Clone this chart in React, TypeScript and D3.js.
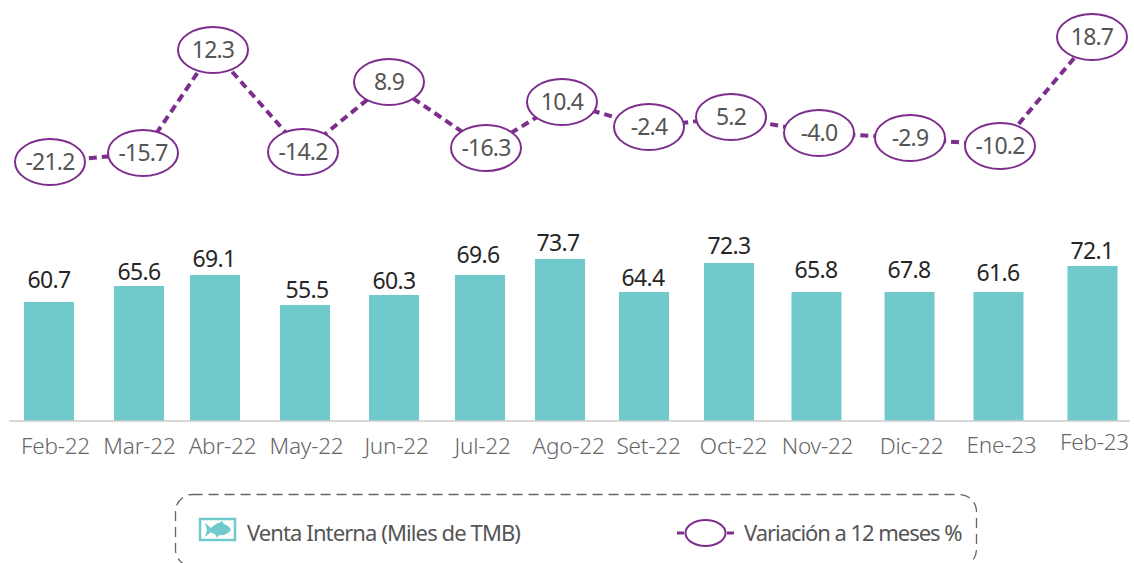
import React, { useEffect, useRef } from 'react';
import * as d3 from 'd3';

const meses = ['Feb-22', 'Mar-22', 'Abr-22', 'May-22', 'Jun-22', 'Jul-22', 'Ago-22', 'Set-22', 'Oct-22', 'Nov-22', 'Dic-22', 'Ene-23', 'Feb-23'];
// printed labels
const ventaInterna = [60.7, 65.6, 69.1, 55.5, 60.3, 69.6, 73.7, 64.4, 72.3, 65.8, 67.8, 61.6, 72.1];
const variacion = [-21.2, -15.7, 12.3, -14.2, 8.9, -16.3, 10.4, -2.4, 5.2, -4.0, -2.9, -10.2, 18.7];
// the source graphic is hand placed: bars and ovals do not follow the printed labels,
// so these are the levels as they were read off the picture
const ventaNivel = [59.5, 67.5, 73, 58, 63, 73, 81, 64.5, 79, 64.5, 64.5, 64.5, 77.5];
const variacionNivel = [8, 17, 120, 18, 88, 22, 68, 43, 53, 37, 32, 24, 133];

const width = 1134;
const height = 563;
const TEAL = '#70c9ca';
const PURPLE = '#7d2e8d';
const FONT = '"Noto Sans", sans-serif';

function App() {
    const ref = useRef<SVGSVGElement>(null);

    useEffect(() => {
        const svg = d3.select(ref.current);
        svg.selectAll('*').remove();

        // uneven spacing in the original, so ordinal scales rather than a band scale
        const xBar = d3.scaleOrdinal<string, number>().domain(meses)
            .range([49, 139, 215, 305, 394, 480, 560, 644, 729, 816.5, 909.5, 998.5, 1092.5]);
        const xValor = d3.scaleOrdinal<string, number>().domain(meses)
            .range([49, 139, 214, 307, 394, 478, 558, 643, 729, 816, 909, 998, 1092]);
        const xMes = d3.scaleOrdinal<string, number>().domain(meses)
            .range([55, 139, 222, 306, 396, 482, 568, 648, 733, 817, 911, 1001, 1094]);
        const xOvalo = d3.scaleOrdinal<string, number>().domain(meses)
            .range([50, 143, 213, 303, 389, 486, 562, 649, 731, 819, 910, 1000, 1092]);
        const gapValor = d3.scaleOrdinal<string, number>().domain(meses)
            .range([14, 6, 8, 7, 6, 12, 8, 6, 9, 14, 14, 11, 7]);

        const yBar = d3.scaleLinear().domain([0, 81]).range([421, 259]);
        const yOvalo = d3.scaleLinear().domain([0, 170]).range([170, 0]);

        // bars
        svg.append('g')
            .attr('fill', TEAL)
            .selectAll('rect')
            .data(meses)
            .join('rect')
            .attr('x', d => xBar(d) - 25)
            .attr('width', 50)
            .attr('y', (d, i) => yBar(ventaNivel[i]))
            .attr('height', (d, i) => yBar(0) - yBar(ventaNivel[i]));

        svg.append('g')
            .attr('font-family', FONT)
            .attr('font-size', 23)
            .attr('letter-spacing', -0.7)
            .attr('fill', '#262626')
            .attr('text-anchor', 'middle')
            .selectAll('text')
            .data(meses)
            .join('text')
            .attr('x', d => xValor(d))
            .attr('y', (d, i) => yBar(ventaNivel[i]) - gapValor(d))
            .text((d, i) => ventaInterna[i].toFixed(1));

        // month axis
        const xAxis = svg.append('g')
            .attr('transform', `translate(0,${yBar(0)})`)
            .call(d3.axisBottom(xMes as any).tickSize(0).tickPadding(17));
        xAxis.select('.domain').remove();
        xAxis.append('line')
            .attr('x1', 9).attr('x2', 1130)
            .attr('stroke', '#cccccc').attr('stroke-width', 1.5);
        xAxis.selectAll('text')
            .attr('font-family', FONT)
            .attr('font-size', 22.5)
            .attr('font-weight', 300)
            .attr('letter-spacing', -0.2)
            .attr('fill', '#666666')
            .attr('dy', (d: any) => (d === 'Feb-23' ? '0.55em' : d === 'Ene-23' ? '0.66em' : '0.71em'));

        // variation line, the ovals sit on top of it
        const line = d3.line<string>()
            .x(d => xOvalo(d))
            .y((d, i) => yOvalo(variacionNivel[i]));

        svg.append('path')
            .attr('d', line(meses))
            .attr('fill', 'none')
            .attr('stroke', PURPLE)
            .attr('stroke-width', 4)
            .attr('stroke-dasharray', '8 5');

        const ovalo = svg.append('g')
            .selectAll('g')
            .data(meses)
            .join('g')
            .attr('transform', (d, i) => `translate(${xOvalo(d)},${yOvalo(variacionNivel[i])})`);

        ovalo.append('ellipse')
            .attr('rx', 35)
            .attr('ry', 23)
            .attr('fill', 'white')
            .attr('stroke', PURPLE)
            .attr('stroke-width', 2);

        ovalo.append('text')
            .attr('y', 8)
            .attr('text-anchor', 'middle')
            .attr('font-family', FONT)
            .attr('font-size', 23)
            .attr('letter-spacing', -0.8)
            .attr('fill', '#555555')
            .text((d, i) => variacion[i].toFixed(1));

        // legend
        const legend = svg.append('g');
        legend.append('rect')
            .attr('x', 175.5).attr('y', 494.5)
            .attr('width', 801).attr('height', 72)
            .attr('rx', 17)
            .attr('fill', 'none')
            .attr('stroke', '#666666')
            .attr('stroke-width', 1.3)
            .attr('stroke-dasharray', '10 6');

        legend.append('rect')
            .attr('x', 200).attr('y', 519)
            .attr('width', 35).attr('height', 21)
            .attr('fill', 'white')
            .attr('stroke', TEAL)
            .attr('stroke-width', 2.5);

        // fish
        legend.append('path')
            .attr('d', 'M205 523 L211 528 C214 525 217 523 219 523 L222 521 L224 524 C227 525 230 527 231 530 C228 534 223 536 219 535 L217 538 L215 534 C213 534 212 533 211 532 L205 537 L207 530 Z')
            .attr('fill', TEAL);

        legend.append('text')
            .attr('x', 247).attr('y', 541)
            .attr('font-family', FONT)
            .attr('font-size', 22)
            .attr('letter-spacing', -0.9)
            .attr('fill', '#555555')
            .text('Venta Interna (Miles de TMB)');

        legend.append('line')
            .attr('x1', 677).attr('x2', 684)
            .attr('y1', 533).attr('y2', 533)
            .attr('stroke', PURPLE)
            .attr('stroke-width', 3);

        legend.append('line')
            .attr('x1', 727).attr('x2', 734)
            .attr('y1', 533).attr('y2', 533)
            .attr('stroke', PURPLE)
            .attr('stroke-width', 3);

        legend.append('ellipse')
            .attr('cx', 705.5).attr('cy', 533)
            .attr('rx', 20).attr('ry', 13)
            .attr('fill', 'white')
            .attr('stroke', PURPLE)
            .attr('stroke-width', 2);

        legend.append('text')
            .attr('x', 744).attr('y', 541)
            .attr('font-family', FONT)
            .attr('font-size', 22)
            .attr('letter-spacing', -1.05)
            .attr('fill', '#555555')
            .text('Variación a 12 meses %');
    }, []);

    return (
        <svg
            ref={ref}
            width={width}
            height={height}
            viewBox={`0 0 ${width} ${height}`}
            style={{ position: 'absolute', left: 0, top: 0, background: 'white' }}
        />
    );
}

export default App;
